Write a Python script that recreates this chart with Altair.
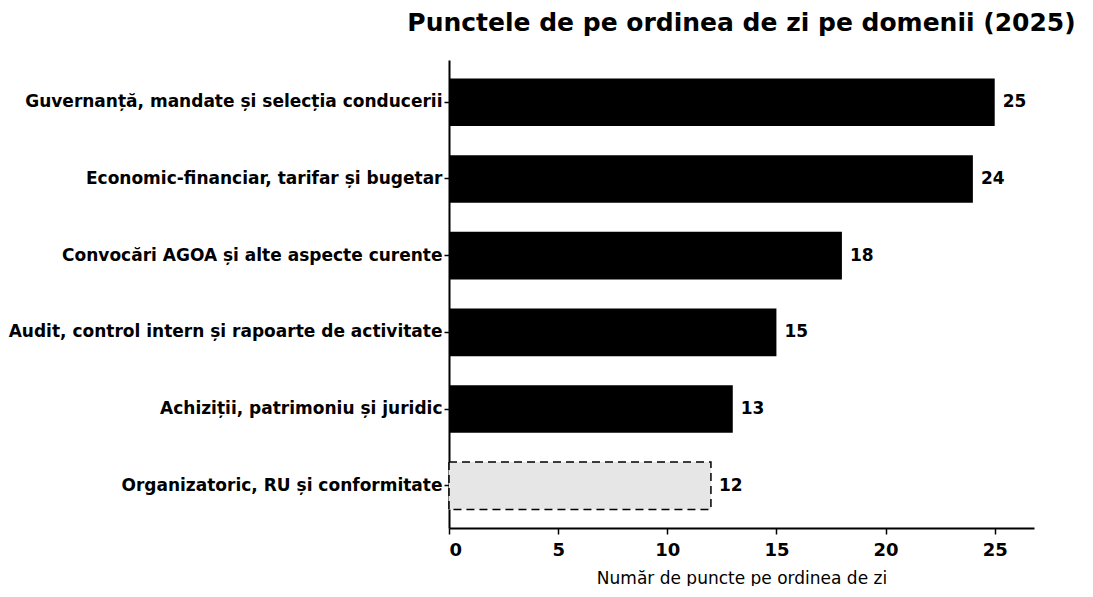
import altair as alt
import pandas as pd

categories = [
    "Guvernanță, mandate și selecția conducerii",
    "Economic-financiar, tarifar și bugetar",
    "Convocări AGOA și alte aspecte curente",
    "Audit, control intern și rapoarte de activitate",
    "Achiziții, patrimoniu și juridic",
    "Organizatoric, RU și conformitate",
]
values = [25, 24, 18, 15, 13, 12]
styles = ["solid", "solid", "solid", "solid", "solid", "dashed"]

df = pd.DataFrame({"cat": categories, "val": values, "style": styles})

FONT = "DejaVu Sans"

y_enc = alt.Y(
    "cat:N",
    sort=categories,
    title=None,
    scale=alt.Scale(paddingInner=0.38, paddingOuter=0.24),
    axis=alt.Axis(
        labelFont=FONT, labelFontSize=17, labelFontWeight="bold", labelColor="#000",
        labelPadding=2, tickColor="#000", tickSize=5, tickWidth=1.5,
        domainColor="#000", domainWidth=2, labelLimit=700,
    ),
)
x_enc = alt.X(
    "val:Q",
    title="Număr de puncte pe ordinea de zi",
    scale=alt.Scale(domain=[0, 26.8], nice=False),
    axis=alt.Axis(
        values=[0, 5, 10, 15, 20, 25], format="d",
        labelFont=FONT, labelFontSize=18, labelFontWeight="bold", labelColor="#000",
        titleFont=FONT, titleFontSize=17, titleFontWeight="normal", titleColor="#000",
        titlePadding=11, tickColor="#000", tickSize=6, tickWidth=1.5,
        domainColor="#000", domainWidth=2, grid=False, labelPadding=7,
    ),
)

solid = alt.Chart(df).transform_filter(alt.datum.style == "solid").mark_bar(
    color="#000000"
).encode(x=x_enc, y=y_enc)

light = alt.Chart(df).transform_filter(alt.datum.style == "dashed").mark_bar(
    color="#e6e6e6", stroke="#000000", strokeDash=[8, 5], strokeWidth=1.5
).encode(x=x_enc, y=y_enc)

text = alt.Chart(df).mark_text(
    align="left", baseline="middle", dx=8, font=FONT, fontSize=17,
    fontWeight="bold", color="#000"
).encode(x="val:Q", y=alt.Y("cat:N", sort=categories), text="val:Q")

chart = alt.layer(solid, light, text).properties(
    width=585,
    height=468,
    padding={"left": 0, "top": 3, "right": 0, "bottom": 0},
    view=alt.ViewBackground(stroke="transparent", strokeWidth=0),
    title=alt.TitleParams(
        "Punctele de pe ordinea de zi pe domenii (2025)",
        font=FONT, fontSize=25, fontWeight="bold", color="#000",
        anchor="middle", offset=24, dx=0,
    ),
).configure_view(stroke="transparent", strokeWidth=0).configure(background="white")

chart.save("out.html", embed_options={"renderer": "svg", "actions": False})
